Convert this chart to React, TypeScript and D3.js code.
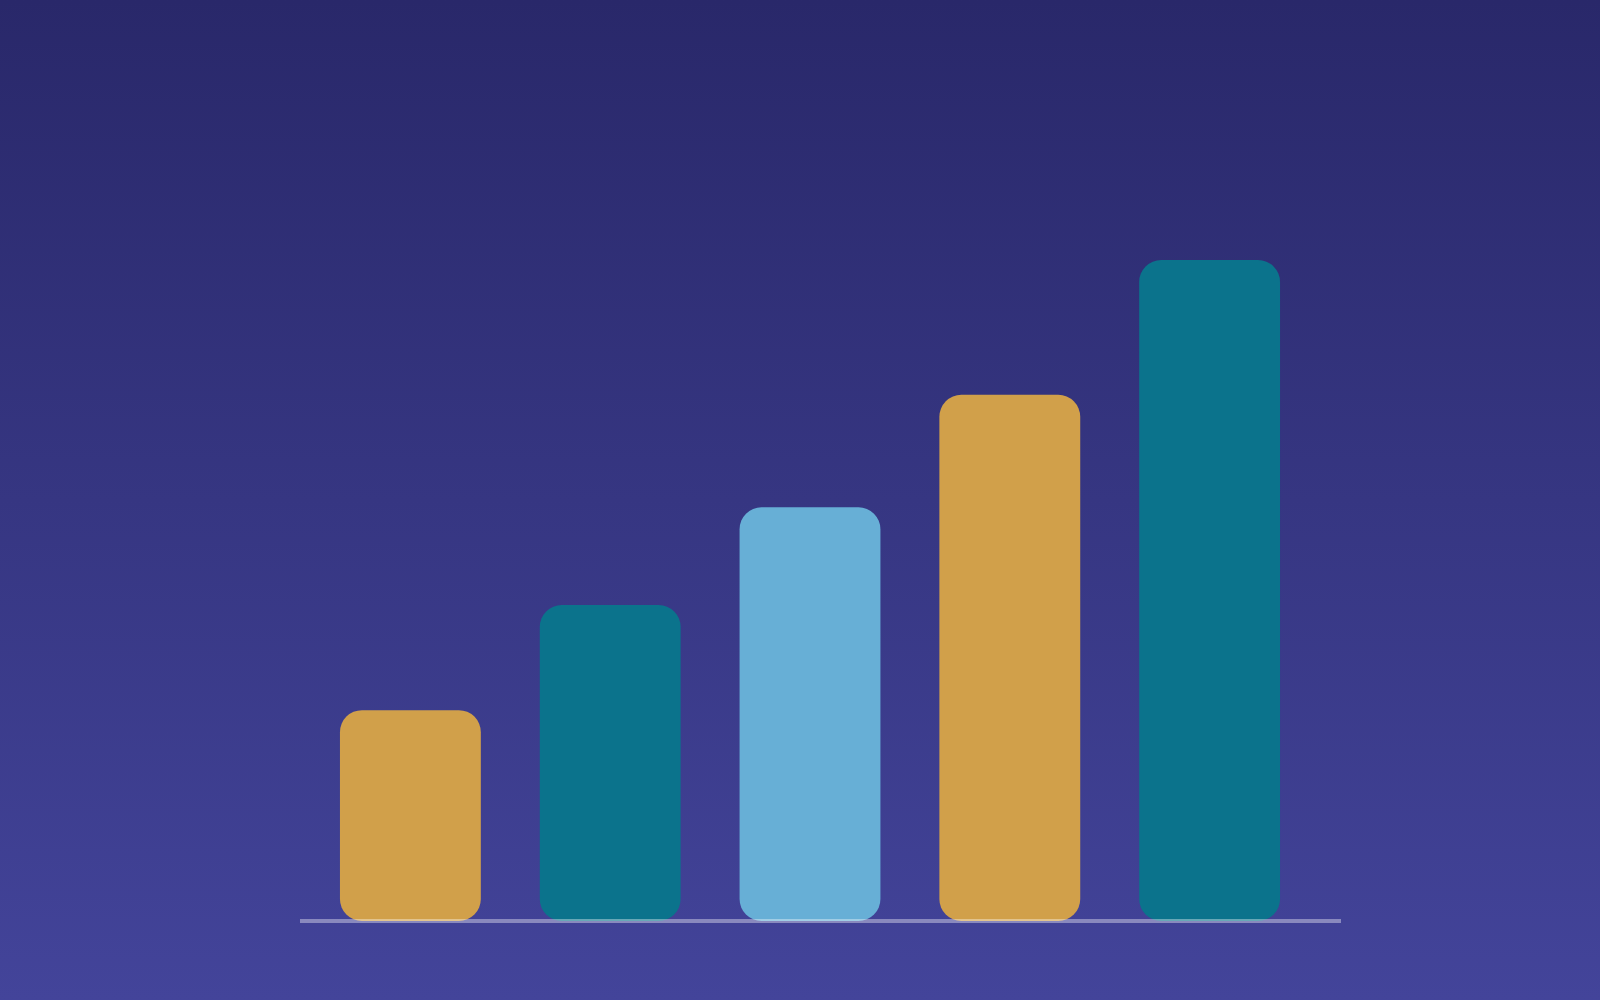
import React, { useEffect, useRef } from 'react';
import * as d3 from 'd3';

// chart data
const categories = ['A', 'B', 'C', 'D', 'E'];
const values = [31.9, 47.8, 62.6, 79.6, 100];
const barColors = ['#D1A04A', '#0B738C', '#67AFD6', '#D1A04A', '#0B738C'];

const App: React.FC = () => {
  const svgRef = useRef<SVGSVGElement>(null);

  useEffect(() => {
    if (!svgRef.current) return;

    d3.select(svgRef.current).selectAll('*').remove();

    const width = 1600;
    const height = 1000;
    const baseY = 921;

    const svg = d3.select(svgRef.current)
      .attr('width', width)
      .attr('height', height);

    // background gradient
    const defs = svg.append('defs');
    const grad = defs.append('linearGradient')
      .attr('id', 'bg')
      .attr('x1', 0).attr('y1', 0)
      .attr('x2', 0).attr('y2', 1);
    grad.append('stop').attr('offset', '0%').attr('stop-color', '#29286A');
    grad.append('stop').attr('offset', '100%').attr('stop-color', '#43449A');

    svg.append('rect')
      .attr('width', width)
      .attr('height', height)
      .attr('fill', 'url(#bg)');

    const x = d3.scaleBand<string>()
      .domain(categories)
      .range([300, 1320])
      .paddingInner(0.295)
      .paddingOuter(0.2);

    const y = d3.scaleLinear()
      .domain([0, 100])
      .range([baseY, 260]);

    // bars
    svg.append('g')
      .selectAll('rect')
      .data(values)
      .join('rect')
      .attr('x', (_, i) => x(categories[i])!)
      .attr('y', d => y(d))
      .attr('width', x.bandwidth())
      .attr('height', d => baseY - y(d))
      .attr('rx', 22)
      .attr('ry', 22)
      .attr('fill', (_, i) => barColors[i]);

    // baseline
    svg.append('line')
      .attr('x1', x.range()[0])
      .attr('x2', x.range()[1] + 21)
      .attr('y1', baseY)
      .attr('y2', baseY)
      .attr('stroke', '#ffffff')
      .attr('stroke-opacity', 0.38)
      .attr('stroke-width', 4);
  }, []);

  return (
    <svg ref={svgRef} style={{ position: 'fixed', top: 0, left: 0, display: 'block' }} />
  );
};

export default App;
